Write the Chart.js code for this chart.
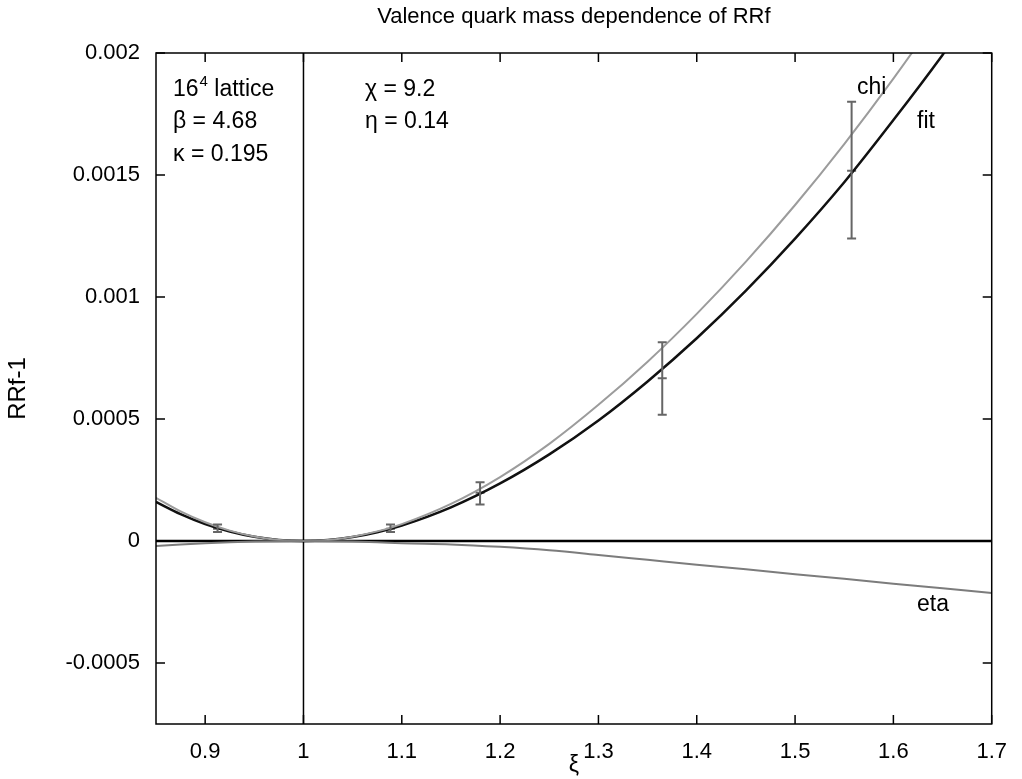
<!DOCTYPE html>
<html>
<head>
<meta charset="utf-8">
<script src="https://cdn.jsdelivr.net/npm/chart.js@4"></script>
<style>
html, body { margin: 0; padding: 0; background: #fff; }
canvas { display: block; }
</style>
</head>
<body>
<canvas id="chart" width="1022" height="779"></canvas>
<script>
// curves
const xGrid = [0.85, 0.875, 0.9, 0.925, 0.95, 0.975, 1.0, 1.025, 1.05, 1.075, 1.1,
    1.15, 1.2, 1.25, 1.3, 1.35, 1.4, 1.45, 1.5, 1.55, 1.6, 1.65, 1.7];
const fitValues = [0.000160, 0.000110, 0.0000695, 0.0000387, 0.000017, 0.0000042, 0, 0.0000041,
    0.0000163, 0.0000361, 0.0000635, 0.000138, 0.000236, 0.000355, 0.000494, 0.000654,
    0.000831, 0.001026, 0.001239, 0.00147, 0.001725, 0.001992, 0.002275];
const chiValues = [0.000177, 0.000121, 0.0000767, 0.0000426, 0.0000187, 0.0000046, 0, 0.0000045,
    0.0000178, 0.0000394, 0.0000692, 0.000152, 0.000262, 0.000398, 0.000558, 0.000735,
    0.000931, 0.001145, 0.001377, 0.001627, 0.001895, 0.002181, 0.002485];
const etaValues = [-0.0000205, -0.0000145, -0.0000095, -0.0000055, -0.0000025, -0.0000006, 0, -0.0000006,
    -0.0000025, -0.0000055, -0.0000095, -0.000014, -0.000024, -0.000038, -0.000057, -0.000077,
    -0.000097, -0.000116, -0.000136, -0.000155, -0.000175, -0.000194, -0.000213];

// data points with error bars
const pointX = [0.9126, 1.0885, 1.1796, 1.3649, 1.5575];
const pointY = [0.00005, 0.00005, 0.000198, 0.000667, 0.001517];
const errLow = [0.000037, 0.000037, 0.00015, 0.000517, 0.00124];
const errHigh = [0.000068, 0.000068, 0.000241, 0.000815, 0.0018];

const xTicks = [0.9, 1, 1.1, 1.2, 1.3, 1.4, 1.5, 1.6, 1.7];
const yTicks = [-0.0005, 0, 0.0005, 0.001, 0.0015, 0.002];

const FONT = 'Liberation Sans, Arial, Helvetica, sans-serif';
const fmt = v => String(+Number(v).toFixed(6));

const extras = {
    id: 'extras',
    beforeDatasetsDraw(chart) {
        const {ctx, chartArea: a, scales: {x, y}} = chart;
        ctx.save();
        ctx.strokeStyle = '#000';
        ctx.lineWidth = 2.5;
        const y0 = y.getPixelForValue(0);
        ctx.beginPath();
        ctx.moveTo(a.left, y0);
        ctx.lineTo(a.right, y0);
        ctx.stroke();
        ctx.lineWidth = 1.5;
        const x1 = x.getPixelForValue(1);
        ctx.beginPath();
        ctx.moveTo(x1, a.top);
        ctx.lineTo(x1, a.bottom);
        ctx.stroke();
        ctx.restore();
    },
    afterDatasetsDraw(chart) {
        const {ctx, chartArea: a, scales: {x, y}} = chart;
        ctx.save();

        // error bars
        ctx.strokeStyle = '#666';
        ctx.lineWidth = 2;
        pointX.forEach((v, i) => {
            const px = x.getPixelForValue(v);
            const lo = y.getPixelForValue(errLow[i]);
            const hi = y.getPixelForValue(errHigh[i]);
            ctx.beginPath();
            ctx.moveTo(px, lo);
            ctx.lineTo(px, hi);
            ctx.moveTo(px - 4.5, lo);
            ctx.lineTo(px + 4.5, lo);
            ctx.moveTo(px - 4.5, hi);
            ctx.lineTo(px + 4.5, hi);
            ctx.stroke();
        });

        // frame and inward ticks
        ctx.strokeStyle = '#000';
        ctx.lineWidth = 1.5;
        ctx.strokeRect(a.left, a.top, a.right - a.left, a.bottom - a.top);
        ctx.beginPath();
        xTicks.forEach(v => {
            const px = x.getPixelForValue(v);
            ctx.moveTo(px, a.bottom);
            ctx.lineTo(px, a.bottom - 9);
            ctx.moveTo(px, a.top);
            ctx.lineTo(px, a.top + 9);
        });
        yTicks.forEach(v => {
            const py = y.getPixelForValue(v);
            ctx.moveTo(a.left, py);
            ctx.lineTo(a.left + 9, py);
            ctx.moveTo(a.right, py);
            ctx.lineTo(a.right - 9, py);
        });
        ctx.stroke();

        // texts
        ctx.fillStyle = '#000';
        ctx.textBaseline = 'middle';
        ctx.textAlign = 'center';
        ctx.font = '22px ' + FONT;
        ctx.fillText('Valence quark mass dependence of RRf', (a.left + a.right) / 2, 17);

        ctx.textAlign = 'left';
        ctx.font = '23px ' + FONT;
        ctx.fillText('16', 173, 90);
        let w = ctx.measureText('16').width;
        ctx.font = '15px ' + FONT;
        ctx.fillText('4', 173 + w + 1, 82);
        w += ctx.measureText('4').width + 1;
        ctx.font = '23px ' + FONT;
        ctx.fillText(' lattice', 173 + w, 90);
        ctx.fillText('β = 4.68', 173, 122);
        ctx.fillText('κ = 0.195', 173, 155);
        ctx.fillText('χ = 9.2', 365, 90);
        ctx.fillText('η = 0.14', 365, 122);
        ctx.fillText('chi', 857, 88);
        ctx.fillText('fit', 917, 122);
        ctx.fillText('eta', 917, 605);
        ctx.restore();
    }
};

const curve = (values, color, width) => ({
    data: xGrid.map((v, i) => ({x: v, y: values[i]})),
    borderColor: color,
    borderWidth: width,
    pointRadius: 0,
    cubicInterpolationMode: 'monotone',
    fill: false
});

new Chart(document.getElementById('chart'), {
    type: 'line',
    data: {
        datasets: [
            curve(etaValues, '#7c7c7c', 2),
            curve(chiValues, '#9c9c9c', 2),
            curve(fitValues, '#111', 2.5),
            {
                data: pointX.map((v, i) => ({x: v, y: pointY[i]})),
                showLine: false,
                pointStyle: 'line',
                pointRadius: 4.5,
                borderColor: '#666',
                borderWidth: 2
            }
        ]
    },
    options: {
        responsive: false,
        animation: false,
        devicePixelRatio: 1,
        layout: {padding: {left: 0, right: 21, top: 53, bottom: 0}},
        plugins: {legend: {display: false}, tooltip: {enabled: false}},
        scales: {
            x: {
                type: 'linear',
                min: 0.85,
                max: 1.7,
                afterBuildTicks: s => { s.ticks = xTicks.map(v => ({value: v})); },
                afterFit: s => { s.height = 55; },
                grid: {display: false, drawTicks: false},
                border: {display: false},
                ticks: {
                    padding: 15,
                    color: '#000',
                    font: {family: FONT, size: 22},
                    maxRotation: 0,
                    callback: v => fmt(v)
                },
                title: {
                    display: true,
                    text: 'ξ',
                    color: '#000',
                    font: {family: FONT, size: 23},
                    padding: {top: 0, bottom: 0}
                }
            },
            y: {
                type: 'linear',
                min: -0.00075,
                max: 0.002,
                afterBuildTicks: s => { s.ticks = yTicks.map(v => ({value: v})); },
                afterFit: s => { s.width = 156; },
                grid: {display: false, drawTicks: false},
                border: {display: false},
                ticks: {
                    padding: 16,
                    color: '#000',
                    font: {family: FONT, size: 22},
                    callback: v => fmt(v)
                },
                title: {
                    display: true,
                    text: 'RRf-1',
                    color: '#000',
                    font: {family: FONT, size: 24},
                    padding: {top: 4, bottom: 0}
                }
            }
        }
    },
    plugins: [extras]
});
</script>
</body>
</html>
